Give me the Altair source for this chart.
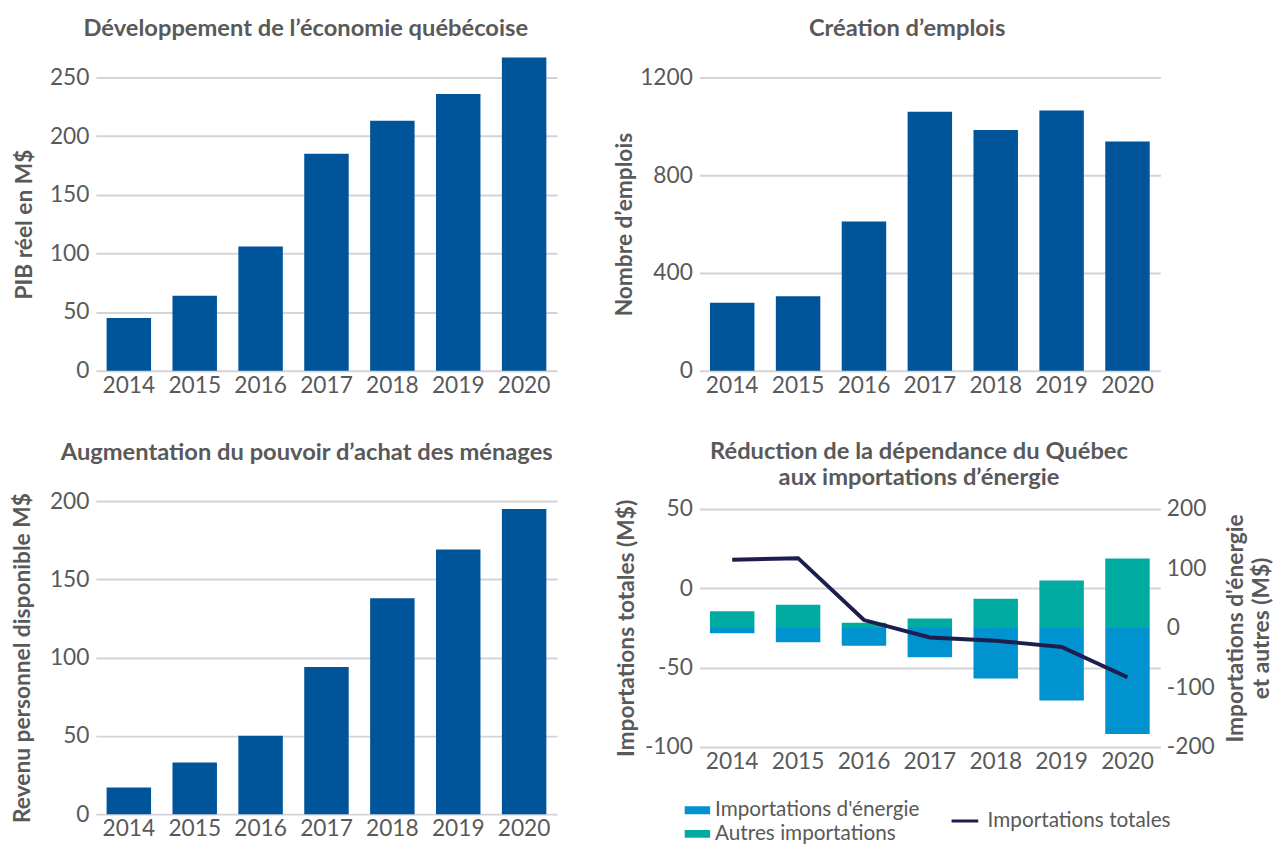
import altair as alt
import pandas as pd

years = ['2014', '2015', '2016', '2017', '2018', '2019', '2020']
pib = [45, 64, 106, 185, 213, 236, 267]
emplois = [278, 305, 611, 1060, 985, 1065, 938]
revenu = [17, 33, 50, 94, 138, 169, 195]
energie = [-9, -24, -30, -49, -85, -122, -178]
autres = [28, 39, 9, 16, 49, 80, 117]
totales = [18, 19, -20, -31, -33, -37, -56]

BAR = '#00559a'
C_EN = '#0093d0'
C_AU = '#00aba1'
C_LINE = '#1c1f4e'
GRID = '#d3d3d8'
TXT = '#595959'
FONT = 'Lato'
W = 467
XSCALE = alt.Scale(paddingInner=0.325, paddingOuter=0.1625)
LBL = "'' + datum.value"


def xaxis():
    return alt.Axis(labelAngle=0, labelPadding=4, title=None)


def bar_panel(values, title, ytitle, domain, ticks, height, dx, toff, tpad):
    df = pd.DataFrame({'annee': years, 'v': values})
    return alt.Chart(df, title=alt.Title(title, dx=dx, offset=toff)).mark_bar(color=BAR).encode(
        x=alt.X('annee:N', axis=xaxis(), scale=XSCALE),
        y=alt.Y('v:Q', title=ytitle,
                scale=alt.Scale(domain=domain, nice=False),
                axis=alt.Axis(values=ticks, titlePadding=tpad, minExtent=45,
                              maxExtent=45, labelPadding=7, labelExpr=LBL)),
    ).properties(width=W, height=height)


p1 = bar_panel(pib, 'Développement de l’économie québécoise', 'PIB réel en M$',
               [0, 250], [0, 50, 100, 150, 200, 250], 297, -21, 17, 15)
p2 = bar_panel(emplois, 'Création d’emplois', 'Nombre d’emplois',
               [0, 1200], [0, 400, 800, 1200], 297, -23, 26, 19)
p3 = bar_panel(revenu, 'Augmentation du pouvoir d’achat des ménages',
               'Revenu personnel disponible M$',
               [0, 200], [0, 50, 100, 150, 200], 317, -20, 26, 17)

df4 = pd.DataFrame({
    'annee': years * 2,
    'v': energie + autres,
    'type': ["Importations d'énergie"] * 7 + ['Autres importations'] * 7,
})
df4l = pd.DataFrame({'annee': years, 'v': totales, 's': ['Importations totales'] * 7})

x4 = alt.X('annee:N', axis=xaxis(), scale=XSCALE)
H4 = 241

bars4 = alt.Chart(df4).mark_bar().encode(
    x=x4,
    y=alt.Y('v:Q', stack=None,
            scale=alt.Scale(domain=[-200, 200], nice=False),
            axis=alt.Axis(orient='right', values=[-200, -100, 0, 100, 200], grid=False,
                          title=["Importations d'énergie", 'et autres (M$)'],
                          titleAngle=270, titleBaseline='top', titleAlign='center',
                          titleX=65, titleY=H4 / 2, titleLineHeight=26,
                          labelPadding=6, labelExpr=LBL)),
    color=alt.Color('type:N',
                    scale=alt.Scale(domain=["Importations d'énergie", 'Autres importations'],
                                    range=[C_EN, C_AU]),
                    legend=alt.Legend(title=None, orient='none', legendX=-15, legendY=293,
                                      symbolType='M-1,-0.31H1V0.31H-1Z', symbolSize=676,
                                      symbolStrokeWidth=0, rowPadding=0, clipHeight=24,
                                      labelOffset=5, padding=0, labelLimit=400)),
)

line4 = alt.Chart(df4l).mark_line(strokeWidth=4).encode(
    x=x4,
    y=alt.Y('v:Q', scale=alt.Scale(domain=[-100, 50], nice=False),
            axis=alt.Axis(orient='left', values=[-100, -50, 0, 50], grid=True,
                          title='Importations totales (M$)', titlePadding=17,
                          minExtent=45, maxExtent=45, labelPadding=7, labelExpr=LBL)),
    stroke=alt.Stroke('s:N', scale=alt.Scale(range=[C_LINE]),
                      legend=alt.Legend(title=None, orient='none', legendX=254, legendY=304,
                                        symbolType='stroke', symbolSize=729, clipHeight=24,
                                        symbolStrokeWidth=3, labelOffset=8, padding=0,
                                        labelLimit=400)),
)

p4 = alt.layer(bars4, line4, title=alt.Title(
    ['Réduction de la dépendance du Québec', 'aux importations d’énergie'], dx=-11, offset=8)
).resolve_scale(y='independent', color='independent', stroke='independent'
).resolve_legend(color='independent', stroke='independent').properties(width=W, height=H4)

chart = alt.hconcat(
    alt.vconcat(p1, p3, spacing=44),
    alt.vconcat(p2, p4, spacing=43),
    spacing=57,
).properties(padding={'left': 4, 'top': 3, 'right': 0, 'bottom': 0}).configure(
    font=FONT,
).configure_view(stroke=None).configure_title(
    font=FONT, fontSize=24, fontWeight='bold', color=TXT, anchor='middle', frame='group',
    lineHeight=27,
).configure_axis(
    labelFont=FONT, labelFontSize=23, labelColor=TXT,
    titleFont=FONT, titleFontSize=23, titleFontWeight='bold', titleColor=TXT,
    ticks=False, domain=False, gridColor=GRID, gridWidth=2,
).configure_axisX(grid=False).configure_legend(
    labelFont=FONT, labelFontSize=21, labelColor=TXT,
)

chart.save('out.html', embed_options={'renderer': 'svg', 'actions': False})
